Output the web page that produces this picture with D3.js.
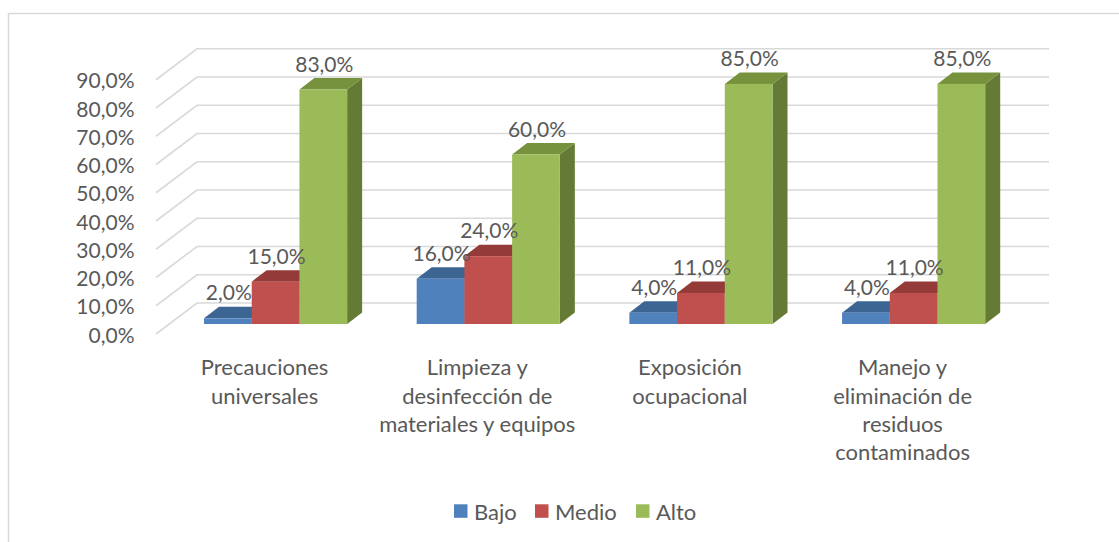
<!DOCTYPE html>
<html>
<head>
<meta charset="utf-8">
<script src="https://cdn.jsdelivr.net/npm/d3@7"></script>
<style>
  html, body { margin: 0; padding: 0; background: #ffffff; }
  svg { display: block; }
  text { font-family: Lato, "Noto Sans", sans-serif; fill: #595959; }
</style>
</head>
<body>
<svg id="chart" width="1119" height="542"></svg>
<script>
// ---- data ----
const categories = [
  ["Precauciones", "universales"],
  ["Limpieza y", "desinfección de", "materiales y equipos"],
  ["Exposición", "ocupacional"],
  ["Manejo y", "eliminación de", "residuos", "contaminados"]
];
const seriesNames = ["Bajo", "Medio", "Alto"];
const bajo  = [0.02, 0.16, 0.04, 0.04];
const medio = [0.15, 0.24, 0.11, 0.11];
const alto  = [0.83, 0.60, 0.85, 0.85];
const yTicks = [0, 0.1, 0.2, 0.3, 0.4, 0.5, 0.6, 0.7, 0.8, 0.9];

const seriesValues = [bajo, medio, alto];
const colors = {
  front: ["#4F81BD", "#C0504D", "#9BBB59"],
  top:   ["#3C6594", "#943B39", "#77923D"],
  side:  ["#345783", "#7E3230", "#657A34"]
};

const svg = d3.select("#chart");
const fmt = v => d3.format(".1f")(v * 100).replace(".", ",") + "%";
const numSize = 21, wordSize = 22;

// chart border (cut at right/bottom like reference)
svg.append("rect").attr("x", 8.5).attr("y", 13.5).attr("width", 1200).attr("height", 600)
  .attr("fill", "none").attr("stroke", "#d9d9d9").attr("stroke-width", 1.5);

// scales
const catIdx = d3.range(categories.length);
const x = d3.scaleBand().domain(catIdx).range([204, 985.2]).paddingInner(0.327).paddingOuter(0);
const xs = d3.scaleBand().domain(d3.range(seriesNames.length)).range([0, x.bandwidth()]).padding(0);
const y = d3.scaleLinear().domain([0, 0.9]).range([324, 324 - 0.9 * 282.5]);

// wall geometry (offsets relative to bar plane)
const frontDy = 10, backDy = -21, sideX0 = 156, backX0 = 197, backX1 = 1049;
const barDx = 15, barDy = -11.5;

const grid = svg.append("g").attr("stroke", "#d9d9d9").attr("stroke-width", 1.6).attr("fill", "none");
yTicks.forEach(t => {
  grid.append("path").attr("d",
    `M${sideX0},${y(t) + frontDy}L${backX0},${y(t) + backDy}L${backX1},${y(t) + backDy}`);
});

// y axis labels
svg.append("g").selectAll("text").data(yTicks).join("text")
  .attr("x", 134.5).attr("y", t => y(t) + frontDy)
  .attr("text-anchor", "end").attr("dominant-baseline", "central")
  .attr("font-size", numSize)
  .text(fmt);

// bars
const bars = svg.append("g");
catIdx.forEach(ci => {
  seriesValues.forEach((vals, si) => {
    const v = vals[ci];
    const x0 = x(ci) + xs(si), x1 = x0 + xs.bandwidth();
    const yt = y(v), yb = y(0);
    bars.append("path").attr("fill", colors.side[si]).attr("d",
      `M${x1},${yb}L${x1 + barDx},${yb + barDy}L${x1 + barDx},${yt + barDy}L${x1},${yt}Z`);
    bars.append("path").attr("fill", colors.top[si]).attr("d",
      `M${x0},${yt}L${x1},${yt}L${x1 + barDx},${yt + barDy}L${x0 + barDx},${yt + barDy}Z`);
    bars.append("rect").attr("x", x0).attr("y", yt).attr("width", x1 - x0).attr("height", yb - yt)
      .attr("fill", colors.front[si]);
  });
});

// data labels
const labels = svg.append("g");
catIdx.forEach(ci => {
  seriesValues.forEach((vals, si) => {
    const v = vals[ci];
    const cx = x(ci) + xs(si) + xs.bandwidth() / 2 + 1;
    labels.append("text").attr("x", cx).attr("y", y(v) + barDy - 6.5)
      .attr("text-anchor", "middle").attr("font-size", numSize).text(fmt(v));
  });
});

// category labels
const cat = svg.append("g");
catIdx.forEach(ci => {
  const cx = x(ci) + x.bandwidth() / 2 - 11;
  categories[ci].forEach((line, li) => {
    cat.append("text").attr("x", cx).attr("y", 366.7 + li * 28.3)
      .attr("text-anchor", "middle").attr("dominant-baseline", "central")
      .attr("font-size", wordSize).text(line);
  });
});

// legend
const legendX = [454, 535, 636];
const lg = svg.append("g");
seriesNames.forEach((n, i) => {
  lg.append("rect").attr("x", legendX[i]).attr("y", 504.3).attr("width", 13.5).attr("height", 13.5)
    .attr("fill", colors.front[i]);
  lg.append("text").attr("x", legendX[i] + 20).attr("y", 511).attr("dominant-baseline", "central")
    .attr("font-size", wordSize).text(n);
});
</script>
</body>
</html>
